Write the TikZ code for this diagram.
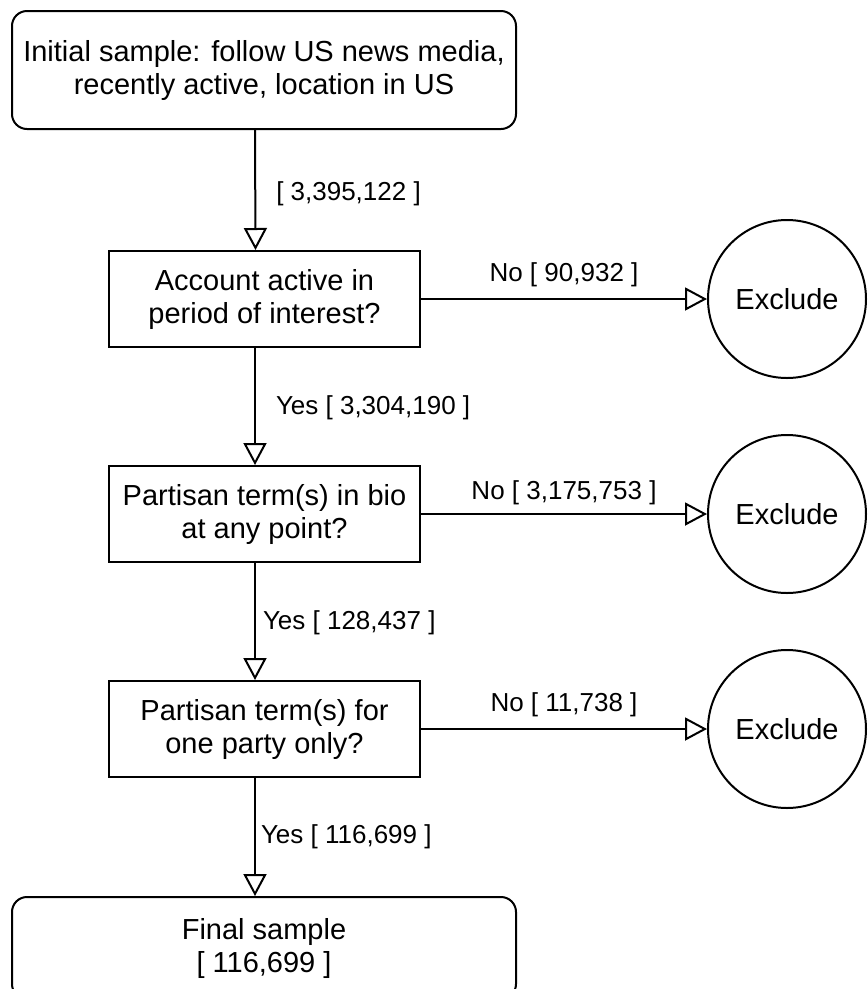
\documentclass[tikz,border=0pt]{standalone}
\usepackage{fontspec}
\setmainfont{Liberation Sans}
\usetikzlibrary{arrows.meta}
\begin{document}
\begin{tikzpicture}[x=1pt,y=-1pt,
  every node/.style={inner sep=0pt},
  txt/.style={font=\fontsize{29}{33}\selectfont},
  box/.style={txt, draw, line width=2pt, minimum width=311pt, minimum height=96pt, align=center},
  term/.style={txt, draw, line width=2pt, rounded corners=15pt, minimum width=504pt, align=center},
  excl/.style={txt, draw, circle, line width=2pt, minimum size=158pt},
  flow/.style={line width=2pt, -{Triangle[open, length=22pt, width=23pt]}},
  lbl/.style={font=\fontsize{26}{30}\selectfont}
]
\useasboundingbox (0,0) rectangle (868,989);

\node[term, minimum height=118pt] (init) at (264,70) {Initial sample: follow US news media,\\recently active, location in US};
\node[box] (q1) at (264.5,299) {Account active in\\period of interest?};
\node[box] (q2) at (264.5,514) {Partisan term(s) in bio\\at any point?};
\node[box] (q3) at (264.5,729) {Partisan term(s) for\\one party only?};
\node[term, minimum height=102pt] (final) at (264,948) {Final sample\\{[} 116,699 ]};

\node[excl] (e1) at (787,299) {Exclude};
\node[excl] (e2) at (787,514) {Exclude};
\node[excl] (e3) at (787,729) {Exclude};

\draw[flow] ([xshift=-9pt]init.south) -- ([xshift=-9pt]q1.north)
  node[lbl, midway, anchor=west, xshift=20pt, yshift=-4pt] {[ 3,395,122 ]};
\draw[flow] ([xshift=-9.5pt]q1.south) -- ([xshift=-9.5pt]q2.north)
  node[lbl, midway, anchor=west, xshift=20pt, yshift=-1pt] {Yes [ 3,304,190 ]};
\draw[flow] ([xshift=-9.5pt]q2.south) -- ([xshift=-9.5pt]q3.north)
  node[lbl, midway, anchor=west, xshift=7pt, yshift=-1pt] {Yes [ 128,437 ]};
\draw[flow] ([xshift=-9.5pt]q3.south) -- ([xshift=-9pt]final.north)
  node[lbl, midway, anchor=west, xshift=5pt, yshift=0pt] {Yes [ 116,699 ]};

\draw[flow] (q1.east) -- (e1.west)
  node[lbl, midway, yshift=24pt] {No [ 90,932 ]};
\draw[flow] (q2.east) -- (e2.west)
  node[lbl, midway, yshift=21pt] {No [ 3,175,753 ]};
\draw[flow] (q3.east) -- (e3.west)
  node[lbl, midway, yshift=24pt] {No [ 11,738 ]};
\end{tikzpicture}
\end{document}
